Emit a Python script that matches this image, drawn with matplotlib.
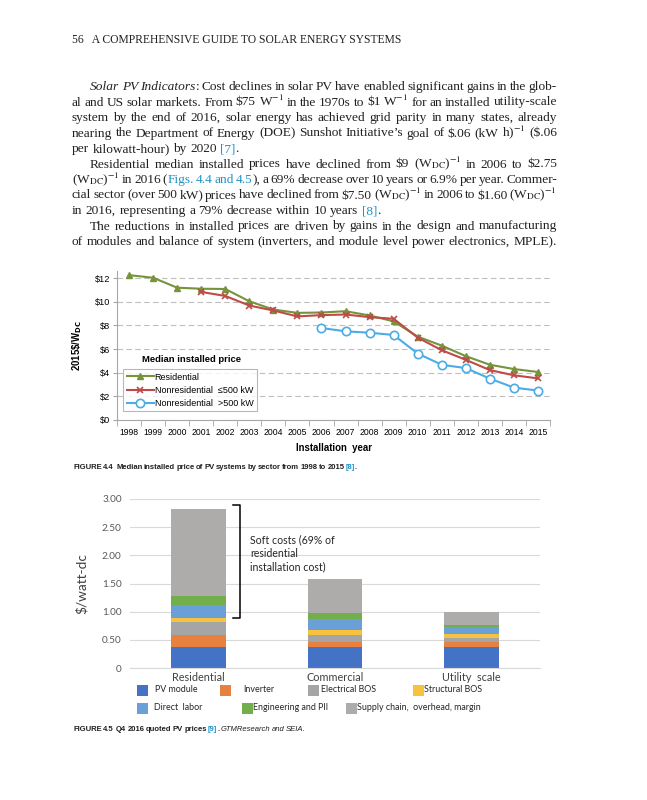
import re
import numpy as np
import matplotlib
matplotlib.use("Agg")
import matplotlib.pyplot as plt
from matplotlib.patches import Rectangle

# ---- Figure 4.4 data (median installed price, 2015$/W) ----
years = ["1998", "1999", "2000", "2001", "2002", "2003", "2004", "2005", "2006",
         "2007", "2008", "2009", "2010", "2011", "2012", "2013", "2014", "2015"]
res_years = years
res_price = [12.25, 12.03, 11.19, 11.10, 11.08, 10.04, 9.34, 9.06, 9.09,
             9.20, 8.84, 8.34, 7.05, 6.29, 5.40, 4.67, 4.31, 4.06]
small_years = ["2001", "2002", "2003", "2004", "2005", "2006", "2007", "2008",
               "2009", "2010", "2011", "2012", "2013", "2014", "2015"]
small_price = [10.83, 10.49, 9.68, 9.26, 8.76, 8.87, 8.92, 8.70,
               8.56, 6.97, 5.90, 5.09, 4.22, 3.78, 3.52]
large_years = ["2006", "2007", "2008", "2009", "2010", "2011", "2012", "2013", "2014", "2015"]
large_price = [7.78, 7.50, 7.38, 7.19, 5.62, 4.67, 4.39, 3.50, 2.74, 2.49]
series_names = ["Residential", "Nonresidential  \u2264500 kW", "Nonresidential  >500 kW"]
price_ticks = [0, 2, 4, 6, 8, 10, 12]

# ---- Figure 4.5 data (Q4 2016 quoted prices, $/watt-dc) ----
sectors = ["Residential", "Commercial", "Utility  scale"]
components = ["PV module", "Inverter", "Electrical BOS", "Structural BOS",
              "Direct  labor", "Engineering and PII", "Supply chain,  overhead, margin"]
pv_module = [0.38, 0.38, 0.38]
inverter = [0.21, 0.09, 0.09]
electrical_bos = [0.22, 0.11, 0.055]
structural_bos = [0.08, 0.10, 0.075]
direct_labor = [0.23, 0.195, 0.12]
engineering = [0.16, 0.10, 0.035]
supply_chain = [1.55, 0.60, 0.245]
cost_ticks = [0, 0.5, 1.0, 1.5, 2.0, 2.5, 3.0]

# ---- page text ----
header = "56   A COMPREHENSIVE GUIDE TO SOLAR ENERGY SYSTEMS"
body = [
    (True, r"*Solar* *PV* *Indicators*: Cost declines in solar PV have enabled significant gains in the glob-"),
    (False, r"al and US solar markets. From \$75 W$^{-1}$ in the 1970s to \$1 W$^{-1}$ for an installed utility-scale"),
    (False, r"system by the end of 2016, solar energy has achieved grid parity in many states, already"),
    (False, r"nearing the Department of Energy (DOE) Sunshot Initiative’s goal of \$.06 (kW h)$^{-1}$ (\$.06"),
    (False, r"per kilowatt-hour) by 2020 §[7]§."),
    (True, r"Residential median installed prices have declined from \$9 (W$_{\mathrm{DC}}$)$^{-1}$ in 2006 to \$2.75"),
    (False, r"(W$_{\mathrm{DC}}$)$^{-1}$ in 2016 (§Figs.§ §4.4§ §and§ §4.5§), a 69% decrease over 10 years or 6.9% per year. Commer-"),
    (False, r"cial sector (over 500 kW) prices have declined from \$7.50 (W$_{\mathrm{DC}}$)$^{-1}$ in 2006 to \$1.60 (W$_{\mathrm{DC}}$)$^{-1}$"),
    (False, r"in 2016, representing a 79% decrease within 10 years §[8]§."),
    (True, r"The reductions in installed prices are driven by gains in the design and manufacturing"),
    (False, r"of modules and balance of system (inverters, and module level power electronics, MPLE)."),
]
last_lines = [4, 8]
caption1 = "FIGURE 4.4  Median installed price of PV systems by sector from 1998 to 2015 §[8]§."
caption2 = "FIGURE 4.5  Q4 2016 quoted PV prices §[9]§. *GTMResearch* *and* *SEIA.*"

W, H = 647, 800
fig = plt.figure(figsize=(W / 100, H / 100), dpi=100)
fig.patch.set_facecolor("white")
renderer = fig.canvas.get_renderer()
LINK = "#1f93c8"
BODY = dict(family="Liberation Serif", size=9.6, color="#231f20", math_fontfamily="stix")
CAP = dict(family=["Liberation Sans", "DejaVu Sans"], size=5.5, weight="bold", color="#231f20")


def fx(x, y):
    return x / W, 1 - y / H


def segments(word):
    out = []
    for part in re.split(r"(\*[^*]+\*|§[^§]+§)", word):
        if not part:
            continue
        if part.startswith("*"):
            out.append((part[1:-1], dict(style="italic", weight="normal")))
        elif part.startswith("§"):
            out.append((part[1:-1], dict(color=LINK)))
        else:
            out.append((part, {}))
    return out


def space_of(font):
    a = fig.text(0, 0, "a a", **font)
    b = fig.text(0, 0, "aa", **font)
    s = a.get_window_extent(renderer).width - b.get_window_extent(renderer).width
    a.remove()
    b.remove()
    return s


def measure(words, font):
    placed = []
    for w in words:
        segs = []
        for s, extra in segments(w):
            t = fig.text(0, 0, s, ha="left", va="baseline", **{**font, **extra})
            segs.append((t, t.get_window_extent(renderer).width))
        placed.append(segs)
    return placed


def put_line(line, x0, y, x1=None, font=BODY, space_scale=1.0):
    words = line.split(" ")
    while True:
        placed = measure(words, font)
        widths = [sum(wd for _, wd in segs) for segs in placed]
        sp = space_of(font)
        if x1 is None or len(words) < 2:
            gap = sp * space_scale
            break
        gap = (x1 - x0 - sum(widths)) / (len(words) - 1)
        if gap >= 0.55 * sp:
            break
        # too long for the measure: shrink this line a little
        for segs in placed:
            for t, _ in segs:
                t.remove()
        font = {**font, "size": font["size"] * 0.985}
    x = x0
    for segs, wsum in zip(placed, widths):
        xx = x
        for t, wd in segs:
            t.set_position(fx(xx, y))
            xx += wd
        x += wsum + gap


# header + body
fig.text(*fx(72, 43), header, ha="left", va="baseline", family="Liberation Serif",
         size=8.4, color="#231f20")
for i, (indent, line) in enumerate(body):
    y = 90 + i * 15.5
    x0 = 90 if indent else 72
    put_line(line, x0, y, None if i in last_lines else 557)

# ---- Figure 4.4 ----
ax1 = fig.add_axes([117 / W, 1 - 420 / H, 433 / W, 149 / H])
ax1.set_axisbelow(True)
ax1.plot([years.index(y) for y in res_years], res_price, color="#77933C", lw=1.5,
         marker="^", ms=5, label=series_names[0])
ax1.plot([years.index(y) for y in small_years], small_price, color="#BE4B48", lw=1.5,
         marker="x", ms=4.5, mew=1.2, label=series_names[1])
ax1.plot([years.index(y) for y in large_years], large_price, color="#4BACE6", lw=1.5,
         marker="o", ms=6, mfc="white", mew=1.2, label=series_names[2])
ax1.set_xlim(-0.5, len(years) - 0.5)
ax1.set_ylim(0, 12.6)
ax1.set_yticks(price_ticks)
ax1.set_yticklabels([f"\\${v}" for v in price_ticks], family="Liberation Sans", size=6.6)
ax1.set_xticks(range(len(years)))
ax1.set_xticklabels(years, family="Liberation Sans", size=6.2)
ax1.set_xticks(np.arange(len(years) + 1) - 0.5, minor=True)
ax1.tick_params(axis="x", which="major", length=0, pad=6)
ax1.tick_params(axis="x", which="minor", length=4, color="#A6A6A6")
ax1.tick_params(axis="y", length=3, color="#A6A6A6", pad=2)
ax1.yaxis.grid(True, ls=(0, (5, 3)), color="#BFBFBF", lw=0.8)
for s in ["top", "right"]:
    ax1.spines[s].set_visible(False)
for s in ["left", "bottom"]:
    ax1.spines[s].set_color("#A6A6A6")
ax1.set_xlabel("Installation  year", family="Liberation Sans", size=6.9, weight="bold", labelpad=4)
ax1.set_ylabel("2015\\$/W$_{\\bf DC}$", family="Liberation Sans", size=6.9, weight="bold",
               math_fontfamily="dejavusans", labelpad=8)
leg = ax1.legend(loc="upper left", bbox_to_anchor=((123 - 117) / 433, (420 - 369) / 149),
                 borderaxespad=0, frameon=True, fancybox=False, edgecolor="#A6A6A6",
                 prop=dict(family=["Liberation Sans", "DejaVu Sans"], size=6.5),
                 handlelength=3, handletextpad=0.1, labelspacing=0.45, borderpad=0.4)
leg.get_frame().set_linewidth(0.8)
fig.text(*fx(142, 359), "Median installed price", ha="left", va="center",
         family="Liberation Sans", size=6.8, weight="bold")
put_line(caption1, 73, 469, font=CAP, space_scale=0.6)

# ---- Figure 4.5 ----
ax2 = fig.add_axes([130 / W, 1 - 668 / H, 410 / W, 169 / H])
ax2.set_axisbelow(True)
stack = [pv_module, inverter, electrical_bos, structural_bos, direct_labor, engineering, supply_chain]
colors = ["#4472C4", "#E8803F", "#A5A5A5", "#F7C23E", "#6A9FD8", "#72AE4C", "#AEABAB"]
bottom = np.zeros(len(sectors))
for vals, c in zip(stack, colors):
    ax2.bar(range(len(sectors)), vals, 0.4, bottom=bottom, color=c)
    bottom += np.array(vals)
ax2.set_xlim(-0.5, len(sectors) - 0.5)
ax2.set_ylim(0, 3.0)
ax2.set_yticks(cost_ticks)
ax2.set_yticklabels(["0" if v == 0 else f"{v:.2f}" for v in cost_ticks],
                    family="Lato", size=7.2, color="#595959")
ax2.set_xticks(range(len(sectors)))
ax2.set_xticklabels(sectors, family="Lato", size=7.8, color="#404040")
ax2.tick_params(length=0)
ax2.tick_params(axis="x", pad=3)
ax2.tick_params(axis="y", pad=6)
ax2.yaxis.grid(True, color="#D9D9D9", lw=0.8)
for s in ["top", "right", "left"]:
    ax2.spines[s].set_visible(False)
ax2.spines["bottom"].set_color("#D9D9D9")
ax2.set_ylabel("\\$/watt-dc", family="Lato", size=9.8, color="#404040")
ax2.yaxis.set_label_coords((88 - 130) / 410, 0.5)

# soft cost bracket
soft_lo = pv_module[0] + inverter[0] + electrical_bos[0] + structural_bos[0]
soft_hi = bottom[0]
ax2.plot([0.253, 0.305, 0.305, 0.253], [soft_hi + 0.06, soft_hi + 0.06, soft_lo - 0.005, soft_lo - 0.005],
         color="black", lw=1.1, clip_on=False)
ax2.text(0.378, 2.04, "Soft costs (69% of\nresidential\ninstallation cost)", ha="left", va="center",
         family="Lato", size=7.6, color="#262626", linespacing=1.3)

# legend (manual layout like the Excel original)
slots = [(137, 155, 690), (220, 243, 690), (308, 321, 690), (413, 424, 690),
         (137, 154, 708), (242, 253, 708), (346, 357, 708)]
for (sx, tx, ty), name, c in zip(slots, components, colors):
    fig.add_artist(Rectangle(fx(sx, ty + 5.5), 11 / W, 11 / H, transform=fig.transFigure,
                             facecolor=c, edgecolor="none"))
    fig.text(*fx(tx, ty), name, ha="left", va="center", family="Lato", size=6.4, color="#262626")
put_line(caption2, 73, 731, font=CAP, space_scale=0.6)

fig.savefig("out.png", dpi=100)
